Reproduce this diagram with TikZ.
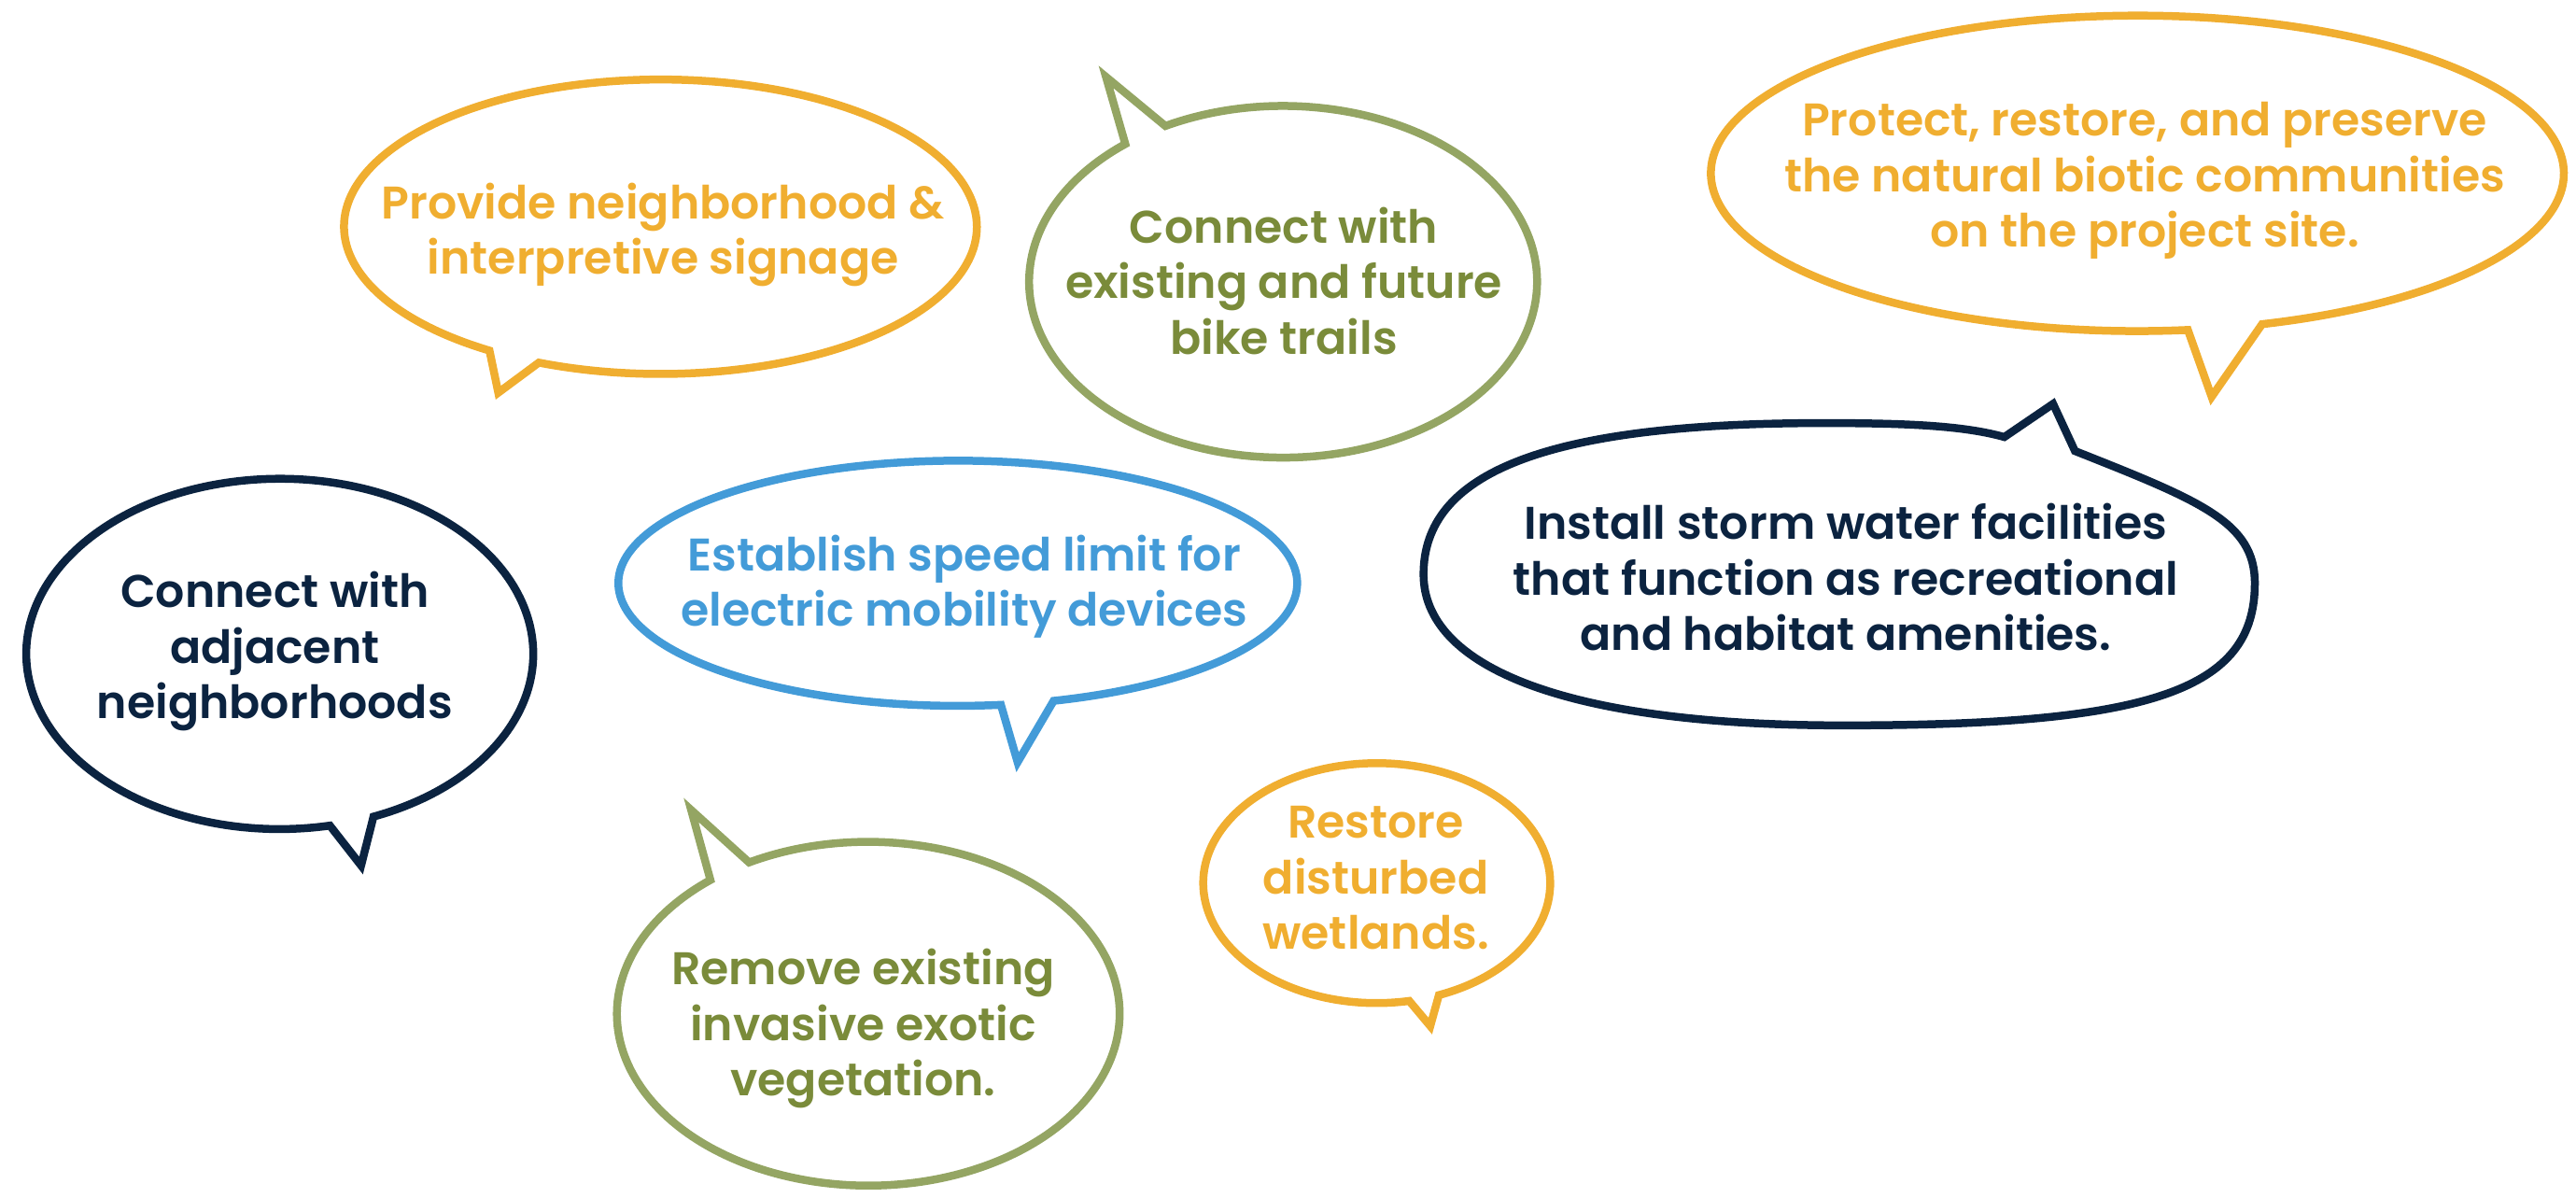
\documentclass[tikz,border=0pt]{standalone}
\usepackage{fontspec}
\setmainfont{Poppins SemiBold}
\usepackage{tikz}
\definecolor{sunorange}{HTML}{F0AE30}
\definecolor{sagegreen}{HTML}{94A563}
\definecolor{olivetext}{HTML}{7A8B3A}
\definecolor{navy}{HTML}{0B2340}
\definecolor{skyblue}{HTML}{439BD8}
\tikzset{
  balloon/.style={draw=#1,line width=8.5pt,line join=miter},
  say/.style={text=#1,align=center,inner sep=0pt,font=\fontsize{49}{59.5}\selectfont}
}
\begin{document}
\begin{tikzpicture}[x=1.7596pt,y=-1.7596pt]
  \useasboundingbox (0,0) rectangle (1568,729);
  % top row
  \draw[balloon=sunorange] (402,138) ++(122.7:192.6 and 89.6)
    arc[start angle=122.7,end angle=472.6,x radius=192.6,y radius=89.6] -- (303.3,239) -- cycle;
  \node[say=sunorange] (signage) at (403.6,143) {Provide neighborhood \&\\interpretive signage};
  \draw[balloon=sagegreen] (781,171.5) ++(242.4:154.6 and 107)
    arc[start angle=242.4,end angle=591.6,x radius=154.6,y radius=107] -- (673.2,46.8) -- cycle;
  \node[say=olivetext] (trails) at (781.5,171) {Connect with\\existing and future\\bike trails};
  \draw[balloon=sunorange] (1301,105.5) ++(83.2:259.6 and 96)
    arc[start angle=83.2,end angle=433,x radius=259.6,y radius=96] -- (1346.2,241.5) -- cycle;
  \node[say=sunorange] (biotic) at (1305.5,110) {Protect, restore, and preserve\\the natural biotic communities\\on the project site.};
  % middle row
  \draw[balloon=navy] (170.3,398) ++(78.6:154.3 and 106.6)
    arc[start angle=78.6,end angle=428.3,x radius=154.3,y radius=106.6] -- (219.8,526.8) -- cycle;
  \node[say=navy] (adjacent) at (167.3,396.5) {Connect with\\adjacent\\neighborhoods};
  \draw[balloon=skyblue] (583,355) ++(82.7:206.6 and 74.6)
    arc[start angle=82.7,end angle=433.6,x radius=206.6,y radius=74.6] -- (619.4,463.9) -- cycle;
  \node[say=skyblue] (speed) at (587,357) {Establish speed limit for\\electric mobility devices};
  \draw[balloon=navy] (1263,274.5)
    .. controls (1340,305) and (1372.5,318) .. (1372.5,355)
    .. controls (1372.5,420) and (1310,441.5) .. (1122,441.5)
    .. controls (950,441.5) and (866.5,405) .. (866.5,349.5)
    .. controls (866.5,288) and (940,257.5) .. (1110,257.5)
    .. controls (1160,257.5) and (1195,259) .. (1220,266) -- (1249.7,245.8) -- cycle;
  \node[say=navy] (storm) at (1123.5,351.5) {Install storm water facilities\\that function as recreational\\and habitat amenities.};
  % bottom row
  \draw[balloon=sagegreen] (528.5,617) ++(241.7:153 and 104.6)
    arc[start angle=241.7,end angle=591.1,x radius=153,y radius=104.6] -- (420.7,493) -- cycle;
  \node[say=olivetext] (exotic) at (525.4,626) {Remove existing\\invasive exotic\\vegetation.};
  \draw[balloon=sunorange] (838,537.5) ++(79.2:105.6 and 73)
    arc[start angle=79.2,end angle=429,x radius=105.6,y radius=73] -- (870.6,624.5) -- cycle;
  \node[say=sunorange] (wetlands) at (837.5,534.5) {Restore\\disturbed\\wetlands.};
\end{tikzpicture}
\end{document}
